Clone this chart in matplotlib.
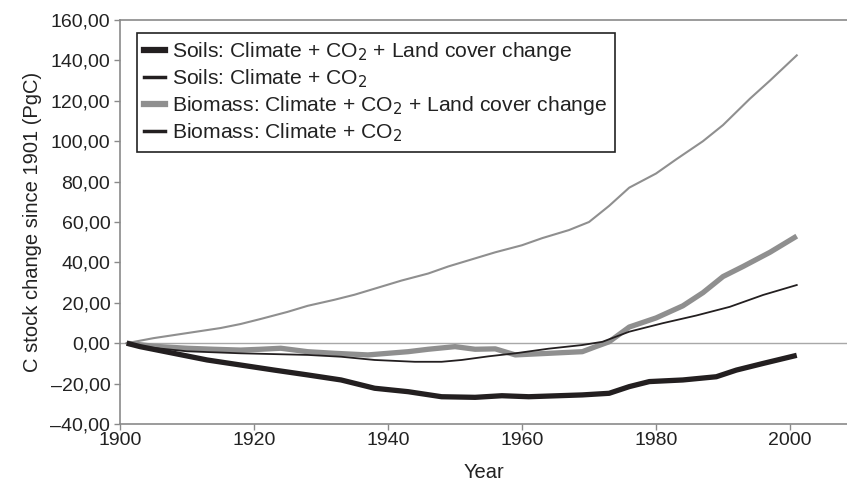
import matplotlib
matplotlib.use("Agg")
import matplotlib.pyplot as plt
from matplotlib.lines import Line2D
from matplotlib.ticker import FuncFormatter, MultipleLocator

plt.rcParams['font.family'] = ['Liberation Sans', 'DejaVu Sans']

# Soils: Climate + CO2 + Land cover change
soil_lcc_years = [1901, 1903, 1908, 1913, 1918, 1923, 1928, 1933, 1938, 1943, 1948,
                  1953, 1957, 1961, 1969, 1973, 1976, 1979, 1984, 1989, 1992, 1996, 2001]
soil_lcc = [0, -1.7, -5, -8.3, -10.8, -13.3, -15.7, -18.2, -22.3, -24, -26.5,
            -26.8, -26, -26.5, -25.6, -24.8, -21.5, -19, -18.2, -16.6, -13.3, -10, -6]

# Soils: Climate + CO2
soil_co2_years = [1901, 1904, 1910, 1918, 1928, 1933, 1938, 1944, 1948, 1951, 1955,
                  1959, 1964, 1969, 1972, 1976, 1981, 1986, 1991, 1996, 2001]
soil_co2 = [0, -2, -4, -5, -5.8, -6.7, -8.3, -9.2, -9.2, -8.3, -6.5,
            -5, -2.7, -0.9, 0.7, 5.7, 9.9, 13.7, 18, 23.9, 28.8]

# Biomass: Climate + CO2 + Land cover change
bio_lcc_years = [1901, 1905, 1910, 1914, 1918, 1921, 1924, 1928, 1932, 1937, 1940,
                 1943, 1946, 1950, 1953, 1956, 1959, 1964, 1969, 1971, 1973, 1976,
                 1980, 1984, 1987, 1990, 1993, 1997, 2001]
bio_lcc = [0, -1.5, -2.5, -3, -3.4, -3, -2.5, -4.2, -5, -5.8, -5,
           -4.2, -3, -1.7, -3, -2.8, -5.8, -5, -4.2, -1.7, 0.7, 8,
           12.5, 18.5, 25, 33, 38, 45, 53]

# Biomass: Climate + CO2
bio_co2_years = [1901, 1905, 1908, 1912, 1915, 1918, 1921, 1925, 1928, 1932, 1935,
                 1939, 1942, 1946, 1949, 1952, 1956, 1960, 1963, 1967, 1970, 1973,
                 1976, 1980, 1983, 1987, 1990, 1994, 1997, 2001]
bio_co2 = [0, 2.5, 4, 6, 7.5, 9.5, 12, 15.5, 18.5, 21.5, 24,
           28, 31, 34.5, 38, 41, 45, 48.5, 52, 56, 60, 68,
           77, 84, 91, 100, 108, 121, 130, 142.5]

labels = [
    "Soils: Climate + CO$_2$ + Land cover change",
    "Soils: Climate + CO$_2$",
    "Biomass: Climate + CO$_2$ + Land cover change",
    "Biomass: Climate + CO$_2$",
]

black = "#231f20"
gray = "#8f8f8f"
axis_gray = "#8a8a8a"
text_color = "#222222"

fig = plt.figure(figsize=(8.47, 4.86), dpi=100)
ax = fig.add_axes([120 / 847, 1 - 424 / 486, 1 - 120 / 847, 404 / 486])

ax.axhline(0, color="#a8a8a8", lw=1.0, zorder=1)
ax.plot(bio_lcc_years, bio_lcc, color=gray, lw=3.8, solid_capstyle="butt", zorder=2)
ax.plot(soil_co2_years, soil_co2, color=black, lw=1.3, zorder=3)
ax.plot(bio_co2_years, bio_co2, color=gray, lw=1.5, zorder=3)
ax.plot(soil_lcc_years, soil_lcc, color=black, lw=3.8, solid_capstyle="butt", zorder=4)

ax.set_xlim(1900, 2008.5)
ax.set_ylim(-40, 160)
ax.xaxis.set_major_locator(MultipleLocator(20))
ax.yaxis.set_major_locator(MultipleLocator(20))


def comma_fmt(v, pos):
    s = f"{abs(v):.2f}".replace(".", ",")
    return ("\u2013" + s) if v < 0 else s


ax.yaxis.set_major_formatter(FuncFormatter(comma_fmt))

ax.spines["right"].set_visible(False)
for side in ("left", "bottom", "top"):
    ax.spines[side].set_color(axis_gray)
    ax.spines[side].set_linewidth(1.2)

ax.tick_params(axis="both", colors=axis_gray, labelcolor=text_color,
               labelsize=14, length=4, width=1.0, direction="out")
ax.tick_params(axis="x", pad=2)
ax.tick_params(axis="y", pad=3)

ax.set_xlabel("Year", fontsize=14.5, color=text_color, labelpad=10)
ax.set_ylabel("C stock change since 1901 (PgC)", fontsize=14.5, color=text_color,
              labelpad=6)

handles = [
    Line2D([], [], color=black, lw=4.5),
    Line2D([], [], color=black, lw=2.5),
    Line2D([], [], color=gray, lw=4.5),
    Line2D([], [], color=black, lw=2.5),
]
leg = ax.legend(handles, labels, loc="upper left", bbox_to_anchor=(0.023, 0.968),
                borderaxespad=0, fontsize=15.2, frameon=True, fancybox=False,
                handlelength=1.0, handletextpad=0.33, labelspacing=0.2,
                borderpad=0.35, framealpha=1)
leg.get_frame().set_edgecolor(text_color)
leg.get_frame().set_linewidth(1.2)
for t in leg.get_texts():
    t.set_color(text_color)

fig.savefig("out.png", dpi=100)
